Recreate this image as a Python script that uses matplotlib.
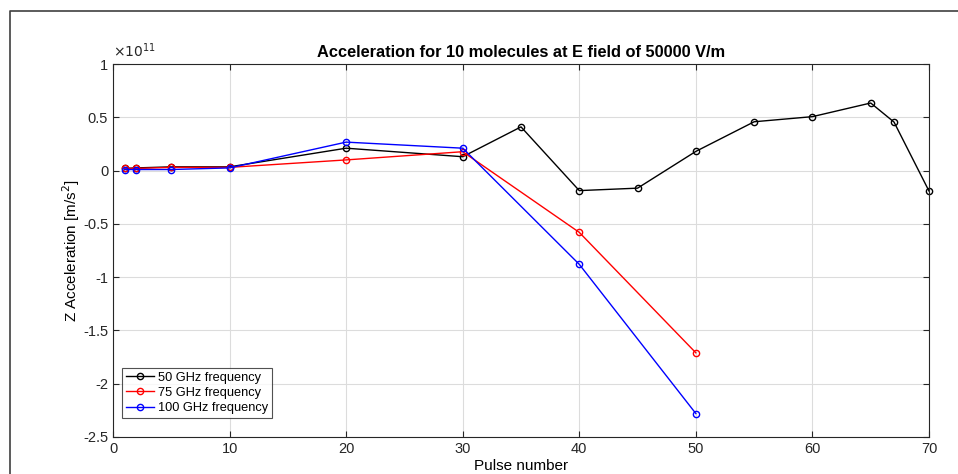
import matplotlib
matplotlib.use('Agg')
from matplotlib import pyplot as plt
from matplotlib.ticker import FuncFormatter
from matplotlib.lines import Line2D

plt.rcParams['font.family'] = ['Liberation Sans', 'DejaVu Sans']

# Pulse numbers
pulse_50 = [1, 2, 5, 10, 20, 30, 35, 40, 45, 50, 55, 60, 65, 67, 70]
pulse_75 = [1, 2, 5, 10, 20, 30, 40, 50]
pulse_100 = [1, 2, 5, 10, 20, 30, 40, 50]

# Z acceleration [m/s^2]
acc_50 = [0.02e11, 0.025e11, 0.035e11, 0.035e11, 0.21e11, 0.13e11, 0.41e11, -0.188e11,
          -0.165e11, 0.18e11, 0.458e11, 0.506e11, 0.634e11, 0.455e11, -0.192e11]
acc_75 = [0.02e11, 0.02e11, 0.03e11, 0.03e11, 0.10e11, 0.177e11, -0.58e11, -1.71e11]
acc_100 = [0.01e11, 0.01e11, 0.01e11, 0.025e11, 0.267e11, 0.21e11, -0.88e11, -2.28e11]

labels = ['50 GHz frequency', '75 GHz frequency', '100 GHz frequency']
colors = ['black', 'red', 'blue']


def main():
    fig = plt.figure(figsize=(9.58, 4.74), dpi=100)
    ax = fig.add_axes([113 / 958, 1 - 437 / 474, (929 - 113) / 958, (437 - 64) / 474])

    for x, y, lab, c in zip([pulse_50, pulse_75, pulse_100],
                            [acc_50, acc_75, acc_100], labels, colors):
        ax.plot(x, y, '-o', color=c, label=lab, linewidth=1.0, clip_on=False,
                markersize=4.5, markerfacecolor='none', markeredgewidth=1.0)

    ax.set_xlim(0, 70)
    ax.set_ylim(-2.5e11, 1e11)
    ax.set_xticks(range(0, 71, 10))
    ax.set_yticks([-2.5e11, -2e11, -1.5e11, -1e11, -0.5e11, 0, 0.5e11, 1e11])
    ax.yaxis.set_major_formatter(FuncFormatter(lambda v, p: '%g' % round(v / 1e11, 2)))
    ax.grid(True, color='#dcdcdc', linewidth=0.8)
    ax.set_axisbelow(True)
    ax.tick_params(direction='in', top=True, right=True, labelsize=10.5,
                   length=4, color='#262626', labelcolor='#262626')
    for s in ax.spines.values():
        s.set_color('#262626')
        s.set_linewidth(0.8)

    ax.text(0.0, 1.01, r'$\times10^{11}$', transform=ax.transAxes,
            fontsize=10, color='#262626', ha='left', va='bottom')
    ax.set_title('Acceleration for 10 molecules at E field of 50000 V/m',
                 fontsize=11.8, fontweight='bold', pad=5)
    ax.set_xlabel('Pulse number', fontsize=11, labelpad=2)
    ax.set_ylabel('Z Acceleration [m/s$^2$]', fontsize=11, labelpad=1)

    leg = ax.legend(loc='lower left', fontsize=9.2, frameon=True, fancybox=False,
                    handlelength=2.2, handletextpad=0.3, borderpad=0.3,
                    labelspacing=0.25, borderaxespad=0,
                    bbox_to_anchor=(9 / 816, 19 / 373))
    leg.get_frame().set_edgecolor('#262626')
    leg.get_frame().set_linewidth(0.8)

    # window frame (top and left edges only)
    fig.lines.append(Line2D([10 / 958, 10 / 958, 1.0], [0.0, 1 - 11 / 474, 1 - 11 / 474],
                            transform=fig.transFigure, color='#404040', linewidth=1.2))

    fig.savefig('out.png', dpi=100)


if __name__ == '__main__':
    main()
